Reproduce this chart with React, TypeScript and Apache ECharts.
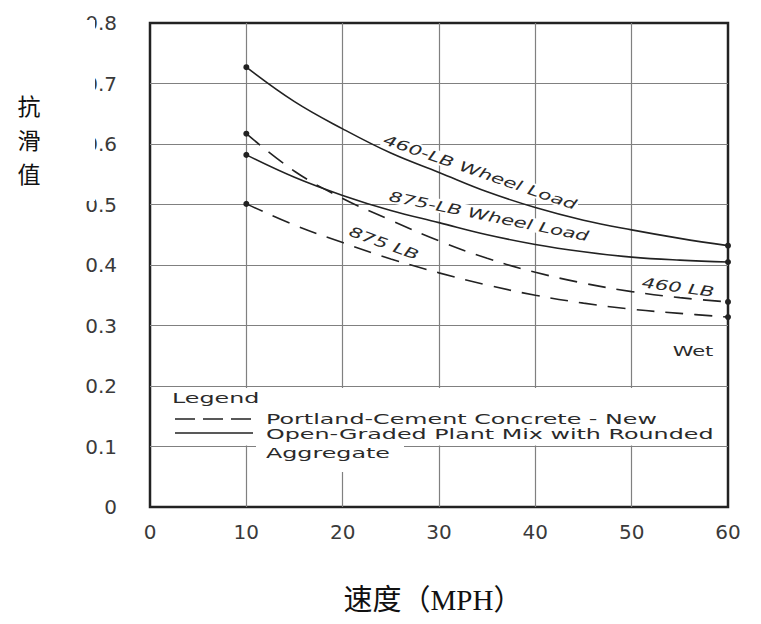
import React, { useEffect, useRef } from "react";
import * as echarts from "echarts";

// Speeds (MPH) at which each skid-resistance curve is sampled
const speeds = [10, 15, 20, 25, 30, 35, 40, 45, 50, 55, 60];

// Open-graded plant mix with rounded aggregate (solid curves)
const openGraded460 = [0.727, 0.67, 0.625, 0.585, 0.553, 0.521, 0.495, 0.474, 0.458, 0.444, 0.432];
const openGraded875 = [0.582, 0.545, 0.515, 0.49, 0.47, 0.45, 0.434, 0.422, 0.413, 0.408, 0.405];

// Portland-cement concrete, new (dashed curves)
const concrete460 = [0.617, 0.555, 0.51, 0.474, 0.44, 0.411, 0.388, 0.37, 0.356, 0.346, 0.339];
const concrete875 = [0.501, 0.466, 0.437, 0.41, 0.387, 0.367, 0.35, 0.337, 0.327, 0.32, 0.314];

const xTickLabels = ["0", "10", "20", "30", "40", "50", "60"];
const yTickLabels = ["0", "0.1", "0.2", "0.3", "0.4", "0.5", "0.6", "0.7", "0.8"];

const curveLabels = ["460-LB Wheel Load", "875-LB Wheel Load", "875 LB", "460 LB"];
const legendTitle = "Legend";
const legendItems = ["Portland-Cement Concrete - New", "Open-Graded Plant Mix with Rounded", "Aggregate"];
const conditionLabel = "Wet";
const xAxisTitle = "速度（MPH）";
const yAxisTitle = ["抗", "滑", "值"];

const INK = "#222";
const LATIN = "'DejaVu Sans', Verdana, sans-serif";

const toPairs = (vals: number[]) => speeds.map((s, i) => [s, vals[i]]);

const endDots = (_v: unknown, p: { dataIndex: number }) =>
  p.dataIndex === 0 || p.dataIndex === speeds.length - 1 ? 6 : 0;

function curve(name: string, vals: number[], dashed: boolean) {
  return {
    name,
    type: "line",
    data: toPairs(vals),
    smooth: 0.4,
    symbol: "circle",
    symbolSize: endDots,
    showSymbol: true,
    itemStyle: { color: INK },
    lineStyle: { color: INK, width: 1.6, type: dashed ? [18, 11] : "solid" },
    z: 3,
  };
}

const deg = (d: number) => (d * Math.PI) / 180;

function slantedLabel(text: string, x: number, y: number, angle: number) {
  return {
    type: "text",
    x,
    y,
    rotation: -deg(angle),
    scaleX: 1.5,
    z: 1,
    style: {
      text,
      fontSize: 14,
      fontFamily: LATIN,
      fontStyle: "italic",
      fill: "#2a2a2a",
      align: "center",
      verticalAlign: "middle",
      textAlign: "center",
      textVerticalAlign: "middle",
      backgroundColor: "#fff",
      padding: [0, 1],
    },
  };
}

function legendText(text: string, x: number, y: number) {
  return {
    type: "text",
    x,
    y,
    scaleX: 1.7,
    z: 2,
    style: {
      text,
      fontSize: 14,
      fontFamily: LATIN,
      fill: "#2a2a2a",
      align: "left",
      verticalAlign: "middle",
      textAlign: "left",
      textVerticalAlign: "middle",
    },
  };
}

function titleChar(ch: string, y: number) {
  return {
    type: "text",
    x: 29,
    y,
    z: 6,
    style: {
      text: ch,
      fontSize: 23,
      fontFamily: "'Noto Sans CJK SC', sans-serif",
      fill: "#111",
      align: "center",
      verticalAlign: "middle",
      textAlign: "center",
      textVerticalAlign: "middle",
    },
  };
}

export default function App() {
  const ref = useRef<HTMLDivElement>(null);

  useEffect(() => {
    if (!ref.current) return;
    const chart = echarts.init(ref.current, null, { renderer: "svg" });

    chart.setOption({
      animation: false,
      backgroundColor: "#fff",
      grid: {
        left: 150,
        right: 33,
        top: 23,
        bottom: 117,
        show: true,
        borderColor: INK,
        borderWidth: 2.5,
        backgroundColor: "transparent",
      },
      xAxis: {
        type: "value",
        min: 0,
        max: 60,
        interval: 10,
        axisLine: { show: false },
        axisTick: { show: false },
        splitLine: {
          show: true,
          showMinLine: false,
          showMaxLine: false,
          lineStyle: { color: "#808080", width: 1.2 },
        },
        axisLabel: {
          margin: 15,
          fontSize: 20,
          fontFamily: LATIN,
          color: "#3a3a3a",
          formatter: (v: number) => xTickLabels[Math.round(v / 10)],
        },
        name: xAxisTitle,
        nameLocation: "middle",
        nameGap: 78,
        nameTextStyle: {
          fontSize: 29,
          fontFamily: "'Liberation Serif', 'Noto Sans CJK SC', serif",
          color: "#111",
          padding: [0, 12, 0, 0],
        },
      },
      yAxis: {
        type: "value",
        min: 0,
        max: 0.8,
        interval: 0.1,
        axisLine: { show: false },
        axisTick: { show: false },
        splitLine: {
          show: true,
          showMinLine: false,
          showMaxLine: false,
          lineStyle: { color: "#808080", width: 1.2 },
        },
        axisLabel: {
          margin: 33,
          fontSize: 20,
          fontFamily: LATIN,
          color: "#3a3a3a",
          formatter: (v: number) => yTickLabels[Math.round(v * 10)],
        },
      },
      series: [
        curve("460-LB Wheel Load", openGraded460, false),
        curve("875-LB Wheel Load", openGraded875, false),
        curve("460 LB", concrete460, true),
        curve("875 LB", concrete875, true),
      ],
      graphic: [
        // panel holding the vertical y-axis title
        {
          type: "rect",
          z: 5,
          shape: { x: 0, y: 20, width: 95, height: 181 },
          style: { fill: "#fff" },
        },
        titleChar(yAxisTitle[0], 105),
        titleChar(yAxisTitle[1], 139),
        titleChar(yAxisTitle[2], 173),

        // curve annotations
        slantedLabel(curveLabels[0], 480, 172, 19),
        slantedLabel(curveLabels[1], 489, 216, 11.5),
        slantedLabel(curveLabels[2], 384, 243, 20),
        slantedLabel(curveLabels[3], 678, 287, 7.5),
        {
          type: "text",
          x: 693,
          y: 351,
          scaleX: 1.5,
          z: 1,
          style: {
            text: conditionLabel,
            fontSize: 14,
            fontFamily: LATIN,
            fill: "#2a2a2a",
            align: "center",
            verticalAlign: "middle",
            textAlign: "center",
            textVerticalAlign: "middle",
          },
        },

        // legend box
        {
          type: "rect",
          z: 1,
          shape: { x: 152, y: 388, width: 574, height: 57.5 },
          style: { fill: "#fff" },
        },
        {
          type: "rect",
          z: 1,
          shape: { x: 256, y: 440, width: 148, height: 32 },
          style: { fill: "#fff" },
        },
        legendText(legendTitle, 172, 398),
        {
          type: "line",
          z: 2,
          shape: { x1: 175, y1: 419, x2: 253, y2: 419 },
          style: { stroke: INK, lineWidth: 1.5, lineDash: [20, 8] },
        },
        legendText(legendItems[0], 266, 419),
        {
          type: "line",
          z: 2,
          shape: { x1: 175, y1: 433, x2: 253, y2: 433 },
          style: { stroke: INK, lineWidth: 1.5 },
        },
        legendText(legendItems[1], 266, 434),
        legendText(legendItems[2], 266, 453),
      ],
    });

    return () => chart.dispose();
  }, []);

  return (
    <div
      ref={ref}
      style={{ position: "absolute", left: 0, top: 0, width: 761, height: 624 }}
    />
  );
}
